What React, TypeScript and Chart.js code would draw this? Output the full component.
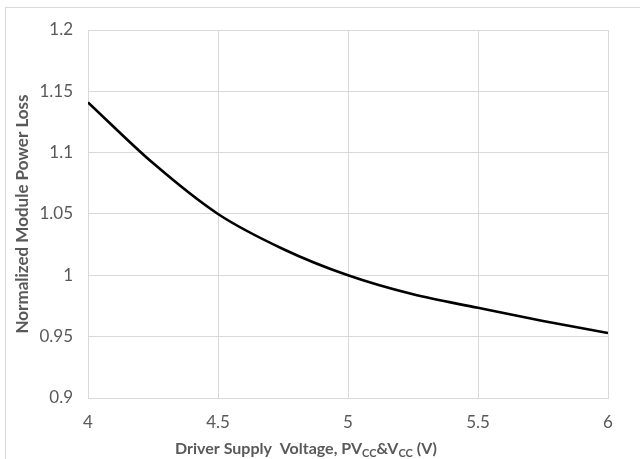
import React, { useEffect, useRef } from "react";
import { Chart, registerables } from "chart.js";

Chart.register(...registerables);

const voltages = [4, 4.25, 4.5, 4.75, 5, 5.25, 5.5, 5.75, 6];
const powerLoss = [1.141, 1.0915, 1.05, 1.0215, 1.0, 0.9845, 0.9735, 0.9628, 0.953];
const xTicks = { min: 4, max: 6, step: 0.5 };
const yTicks = { min: 0.9, max: 1.2, step: 0.05 };
const yTitle = "Normalized Module Power Loss";
const xTitleParts: { text: string; sub: boolean }[] = [
  { text: "Driver Supply  Voltage, PV", sub: false },
  { text: "CC", sub: true },
  { text: "&V", sub: false },
  { text: "CC", sub: true },
  { text: " (V)", sub: false },
];

const TEXT = "#595959";
const GRID = "#d9d9d9";
const FONT = "Lato";

const xTitlePlugin = {
  id: "xTitleSub",
  afterDraw(chart: any) {
    const ctx = chart.ctx as CanvasRenderingContext2D;
    const area = chart.chartArea;
    const mainFont = `bold 16px ${FONT}`;
    const subFont = `bold 11px ${FONT}`;
    ctx.save();
    let total = 0;
    for (const p of xTitleParts) {
      ctx.font = p.sub ? subFont : mainFont;
      total += ctx.measureText(p.text).width;
    }
    const cx = (area.left + area.right) / 2 - 42;
    let x = cx - total / 2;
    const y = area.bottom + 51;
    ctx.fillStyle = TEXT;
    ctx.textBaseline = "middle";
    ctx.textAlign = "left";
    for (const p of xTitleParts) {
      ctx.font = p.sub ? subFont : mainFont;
      ctx.fillText(p.text, x, p.sub ? y + 4 : y);
      x += ctx.measureText(p.text).width;
    }
    ctx.restore();
  },
};

export default function App() {
  const canvasRef = useRef<HTMLCanvasElement | null>(null);

  useEffect(() => {
    if (!canvasRef.current) return;
    const chart = new Chart(canvasRef.current, {
      type: "line",
      data: {
        datasets: [
          {
            data: voltages.map((v, i) => ({ x: v, y: powerLoss[i] })),
            borderColor: "#000000",
            borderWidth: 2.6,
            pointRadius: 0,
            cubicInterpolationMode: "monotone",
            fill: false,
          },
        ],
      },
      options: {
        animation: false,
        responsive: false,
        maintainAspectRatio: false,
        layout: { padding: { top: 30, right: 32, left: 0, bottom: 0 } },
        plugins: { legend: { display: false }, tooltip: { enabled: false } },
        scales: {
          x: {
            type: "linear",
            min: xTicks.min,
            max: xTicks.max,
            afterFit: (s: any) => {
              s.height = 61;
            },
            ticks: {
              stepSize: xTicks.step,
              color: TEXT,
              font: { family: FONT, size: 17 },
              padding: 14,
              callback: (v: any) => String(Number(v)),
            },
            grid: { color: GRID, lineWidth: 1, drawTicks: false },
            border: { color: GRID, width: 1 },
          },
          y: {
            type: "linear",
            min: yTicks.min,
            max: yTicks.max,
            afterFit: (s: any) => {
              s.width = 88;
            },
            ticks: {
              stepSize: yTicks.step,
              color: TEXT,
              font: { family: FONT, size: 17 },
              padding: 15,
              callback: (v: any) => String(Math.round(Number(v) * 100) / 100),
            },
            grid: { color: GRID, lineWidth: 1, drawTicks: false },
            border: { color: GRID, width: 1 },
            title: {
              display: true,
              text: yTitle,
              color: TEXT,
              font: { family: FONT, size: 17, weight: "bold" },
              padding: { top: 12, bottom: 0 },
            },
          },
        },
      },
      plugins: [xTitlePlugin],
    });
    return () => chart.destroy();
  }, []);

  return (
    <div style={{ position: "fixed", left: 0, top: 0, width: 640, height: 459, background: "#fff", overflow: "hidden" }}>
      <div
        style={{
          position: "absolute",
          left: 5,
          top: 7,
          width: 660,
          height: 480,
          borderTop: `1px solid ${GRID}`,
          borderLeft: `1px solid ${GRID}`,
        }}
      />
      <canvas ref={canvasRef} width={640} height={459} style={{ position: "absolute", left: 0, top: 0 }} />
    </div>
  );
}
